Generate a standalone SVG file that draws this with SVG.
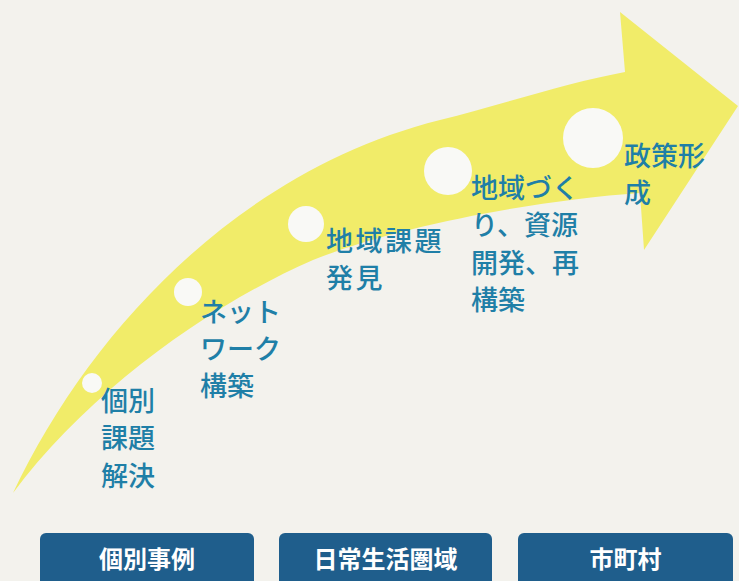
<svg xmlns="http://www.w3.org/2000/svg" width="739" height="581" viewBox="0 0 739 581">
<style>
.lbl{font-family:"Noto Sans CJK JP","Noto Sans CJK SC",sans-serif;font-size:27px;font-weight:500;fill:#1f7fa7;}
.box{fill:#1f5e8c;}
.btxt{font-family:"Noto Sans CJK JP","Noto Sans CJK SC",sans-serif;font-size:24px;font-weight:bold;fill:#ffffff;text-anchor:middle;}
.hole{fill:#f9f9f6;}
</style>
<rect width="739" height="581" fill="#f3f2ed"/>
<g id="arrow">
<path d="M13,493 C90,330 240,170 440,120 C500,105 570,82 625,72 L620,12 L738,106 L644,250 L640,193 C540,200 400,225 313,260 C210,305 90,390 13,493 Z" fill="#f1ec69"/>
<circle class="hole" cx="92" cy="383" r="10"/>
<circle class="hole" cx="188" cy="292" r="14"/>
<circle class="hole" cx="306" cy="224" r="18"/>
<circle class="hole" cx="448" cy="171" r="24"/>
<circle class="hole" cx="593" cy="138" r="30"/>
</g>
<g id="label-1">
<text class="lbl" x="101" y="411">個別</text>
<text class="lbl" x="101" y="448">課題</text>
<text class="lbl" x="101" y="486">解決</text>
</g>
<g id="label-2">
<text class="lbl" x="200" y="322">ネット</text>
<text class="lbl" x="200" y="359">ワーク</text>
<text class="lbl" x="200" y="396">構築</text>
</g>
<g id="label-3">
<text class="lbl" x="326" y="251" letter-spacing="2.5">地域課題</text>
<text class="lbl" x="326" y="288" letter-spacing="2.5">発見</text>
</g>
<g id="label-4">
<text class="lbl" x="471" y="198">地域づく</text>
<text class="lbl" x="471" y="235">り、資源</text>
<text class="lbl" x="471" y="273">開発、再</text>
<text class="lbl" x="471" y="310">構築</text>
</g>
<g id="label-5">
<text class="lbl" x="624" y="166">政策形</text>
<text class="lbl" x="624" y="203">成</text>
</g>
<g id="box-1">
<rect class="box" x="40" y="533" width="214" height="60" rx="6"/>
<text class="btxt" x="147" y="568">個別事例</text>
</g>
<g id="box-2">
<rect class="box" x="279" y="533" width="213" height="60" rx="6"/>
<text class="btxt" x="385.5" y="568">日常生活圏域</text>
</g>
<g id="box-3">
<rect class="box" x="518" y="533" width="215" height="60" rx="6"/>
<text class="btxt" x="625.5" y="568">市町村</text>
</g>
</svg>
